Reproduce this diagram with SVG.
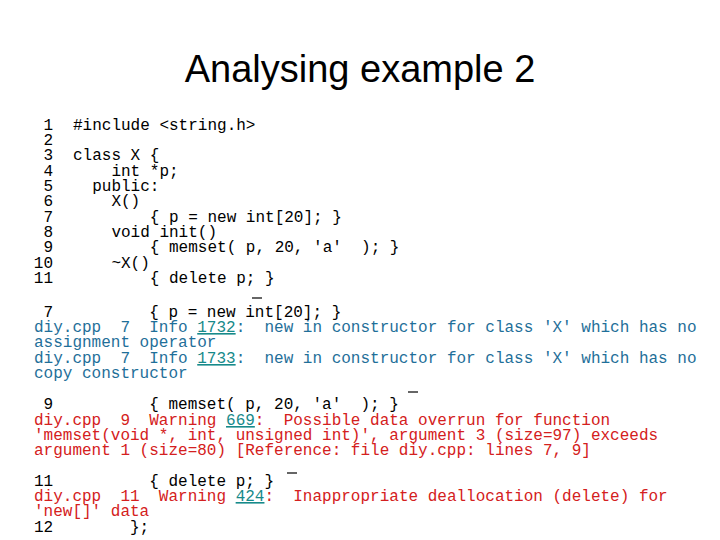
<svg xmlns="http://www.w3.org/2000/svg" width="720" height="540" viewBox="0 0 720 540">
<style>
text{font-family:"Liberation Mono","Courier New",monospace;font-size:16px;white-space:pre}
.t{font-family:"Liberation Sans",Arial,sans-serif;font-size:38px}
.n{text-anchor:end}
.b{fill:#1f6f99}
.r{fill:#d42020}
.l{fill:#178a8a;text-decoration:underline}
.o{stroke:#000;stroke-width:1.2}
</style>
<rect width="720" height="540" fill="#fff"/>
<text class="t" x="360" y="82" text-anchor="middle">Analysing example 2</text>
<g id="code">
<text class="n" x="53" y="130">1</text><text x="73" y="130">#include &lt;string.h&gt;</text>
<text class="n" x="53" y="145">2</text>
<text class="n" x="53" y="160">3</text><text x="73" y="160">class X {</text>
<text class="n" x="53" y="176">4</text><text x="73" y="176">    int *p;</text>
<text class="n" x="53" y="191">5</text><text x="73" y="191">  public:</text>
<text class="n" x="53" y="206">6</text><text x="73" y="206">    X()</text>
<text class="n" x="53" y="222">7</text><text x="73" y="222">        { p = new int[20]; }</text>
<text class="n" x="53" y="237">8</text><text x="73" y="237">    void init()</text>
<text class="n" x="53" y="252">9</text><text x="73" y="252">        { memset( p, 20, 'a'  ); }</text>
<text class="n" x="53" y="268">10</text><text x="73" y="268">    ~X()</text>
<text class="n" x="53" y="283">11</text><text x="73" y="283">        { delete p; }</text>
</g>
<g id="msg7">
<line class="o" x1="252" y1="298" x2="262" y2="298"/>
<text x="34" y="317"> 7          { p = new int[20]; }</text>
<text class="b" x="34" y="332">diy.cpp  7  Info <tspan class="l">1732</tspan>:  new in constructor for class 'X' which has no</text>
<text class="b" x="34" y="347">assignment operator</text>
<text class="b" x="34" y="363">diy.cpp  7  Info <tspan class="l">1733</tspan>:  new in constructor for class 'X' which has no</text>
<text class="b" x="34" y="378">copy constructor</text>
</g>
<g id="msg9">
<line class="o" x1="408" y1="392" x2="418" y2="392"/>
<text x="34" y="409"> 9          { memset( p, 20, 'a'  ); }</text>
<text class="r" x="34" y="425">diy.cpp  9  Warning <tspan class="l">669</tspan>:  Possible data overrun for function</text>
<text class="r" x="34" y="440">'memset(void *, int, unsigned int)', argument 3 (size=97) exceeds</text>
<text class="r" x="34" y="455">argument 1 (size=80) [Reference: file diy.cpp: lines 7, 9]</text>
</g>
<g id="msg11">
<line class="o" x1="287" y1="473" x2="297" y2="473"/>
<text x="34" y="486">11          { delete p; }</text>
<text class="r" x="34" y="501">diy.cpp  11  Warning <tspan class="l">424</tspan>:  Inappropriate deallocation (delete) for</text>
<text class="r" x="34" y="516">'new[]' data</text>
<text x="34" y="532">12        };</text>
</g>
</svg>
